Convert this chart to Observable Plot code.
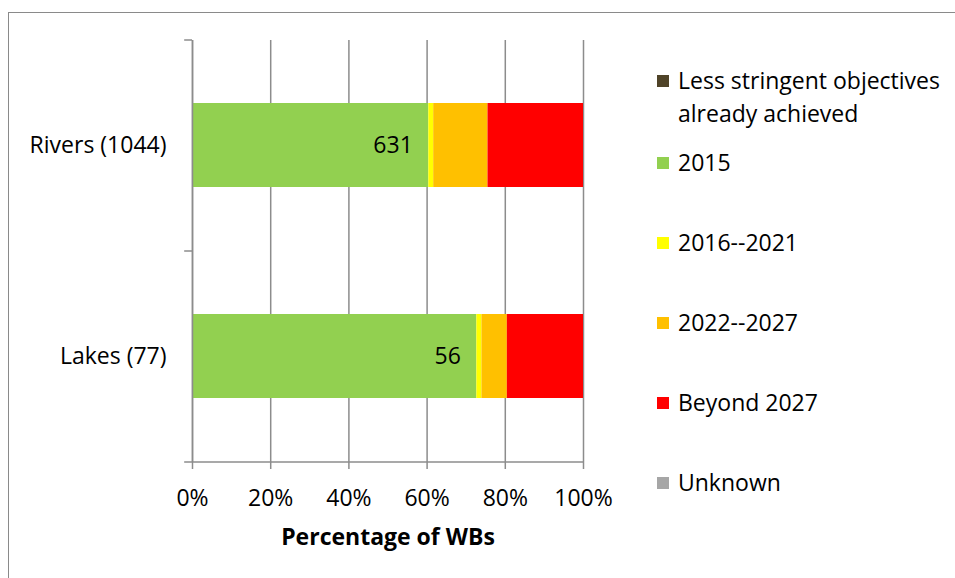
<!DOCTYPE html>
<html>
<head>
<meta charset="utf-8">
<script src="https://cdn.jsdelivr.net/npm/d3@7"></script>
<script src="https://cdn.jsdelivr.net/npm/@observablehq/plot@0.6"></script>
<style>
  html, body { margin: 0; padding: 0; background: #fff; }
  #wrap { position: relative; width: 955px; height: 578px; overflow: hidden; font-family: "Open Sans", sans-serif; }
  #frame { position: absolute; left: 8px; top: 12px; width: 1000px; height: 700px; border-left: 1.5px solid #8a8a8a; border-top: 1.5px solid #8a8a8a; box-sizing: border-box; pointer-events: none; }
  #chart { position: absolute; left: 0; top: 0; }
  .leg { position: absolute; left: 657px; font-size: 23px; line-height: 33px; color: #000; }
  .leg .sw { position: absolute; left: 0; top: 11px; width: 12px; height: 12px; }
  .leg .tx { position: absolute; left: 21px; white-space: nowrap; }
</style>
</head>
<body>
<div id="wrap">
  <div id="chart"></div>
  <div id="legend"></div>
  <div id="frame"></div>
</div>
<script>
const categories = ["Rivers (1044)", "Lakes (77)"];
const series = ["Less stringent objectives already achieved", "2015", "2016--2021", "2022--2027", "Beyond 2027", "Unknown"];
const legendLines = [["Less stringent objectives", "already achieved"], ["2015"], ["2016--2021"], ["2022--2027"], ["Beyond 2027"], ["Unknown"]];
const riversCounts = [0, 631, 13, 145, 255, 0];
const lakesCounts = [0, 56, 1, 5, 15, 0];
const colors = ["#4f4328", "#92d050", "#ffff00", "#ffc000", "#ff0000", "#a6a6a6"];
const xTicks = [0, 0.2, 0.4, 0.6, 0.8, 1];
const xLabel = "Percentage of WBs";
const labelSeries = "2015";

const counts = [riversCounts, lakesCounts];
const table = [];
categories.forEach((c, ci) => series.forEach((s, si) => table.push({cat: c, series: s, value: counts[ci][si]})));

const W = 955, H = 578, mL = 192, mR = 372, mT = 40, mB = 116;
const step = (H - mT - mB) / categories.length;
const gray = "#8c8c8c";
const fontSize = 23;

const chart = Plot.plot({
  width: W, height: H,
  marginLeft: mL, marginRight: mR, marginTop: mT, marginBottom: mB,
  style: {fontFamily: "'Open Sans', sans-serif", fontSize: fontSize + "px", color: "#000", background: "transparent"},
  x: {domain: [0, 1], axis: null},
  y: {domain: categories, paddingInner: 0.6, paddingOuter: 0.3, axis: null},
  color: {domain: series, range: colors},
  marks: [
    Plot.ruleX(xTicks, {stroke: gray, strokeWidth: 1.5}),
    Plot.barX(table, Plot.stackX({x: "value", y: "cat", z: "series", fill: "series", order: series, offset: "normalize"})),
    Plot.ruleY(categories, {y: d => d, x1: -0.02, x2: 0, dy: -step / 2, stroke: gray, strokeWidth: 1.5}),
    Plot.ruleY(categories.slice(-1), {y: d => d, x1: -0.02, x2: 1, dy: step / 2, stroke: gray, strokeWidth: 1.5}),
    Plot.ruleX([0], {stroke: gray, strokeWidth: 1.5}),
    Plot.text(table, Plot.stackX2({x: "value", y: "cat", z: "series", order: series, offset: "normalize",
      text: d => d.series === labelSeries ? String(d.value) : null, textAnchor: "end", dx: -16, fill: "#000", fontSize: fontSize})),
    Plot.axisY({tickSize: 0, tickPadding: 26, fontSize: fontSize, label: null}),
    Plot.axisX(xTicks, {tickSize: 7, tickPadding: 20, stroke: gray, strokeWidth: 1.5, tickFormat: d3.format(".0%"), fontSize: fontSize, label: null}),
    Plot.text([xLabel], {frameAnchor: "bottom", dy: 82, fontWeight: "bold", fontSize: fontSize, fill: "#000"})
  ]
});
document.getElementById("chart").appendChild(chart);

const leg = document.getElementById("legend");
series.forEach((s, i) => {
  const item = document.createElement("div");
  item.className = "leg";
  item.style.top = (i === 0 ? 64 : 146 + 80 * (i - 1)) + "px";
  const sw = document.createElement("div");
  sw.className = "sw";
  sw.style.background = colors[i];
  const tx = document.createElement("div");
  tx.className = "tx";
  tx.innerHTML = legendLines[i].join("<br>");
  item.appendChild(sw);
  item.appendChild(tx);
  leg.appendChild(item);
});
</script>
</body>
</html>
